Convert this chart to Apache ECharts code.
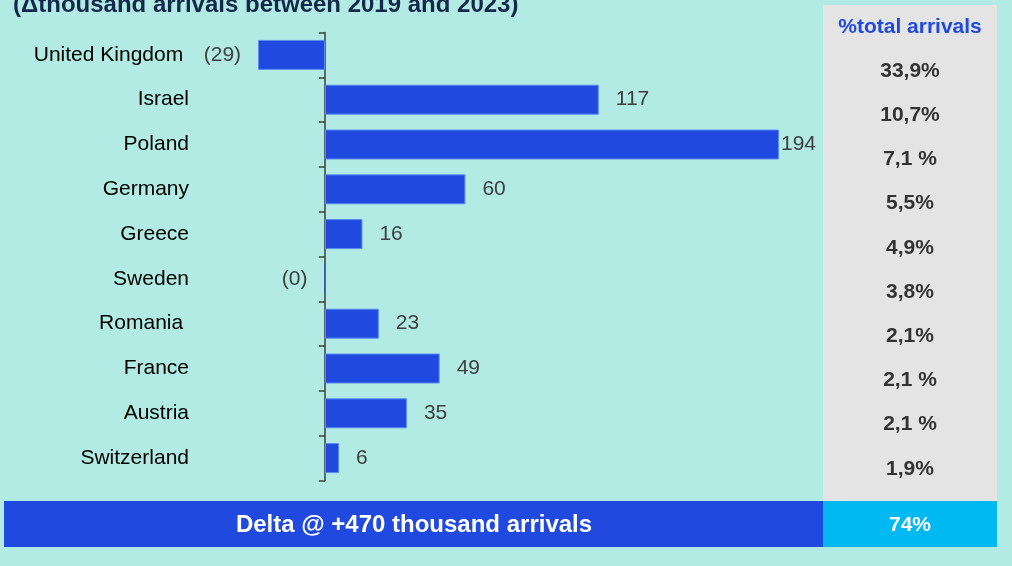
<!DOCTYPE html>
<html>
<head>
<meta charset="utf-8">
<script src="https://cdn.jsdelivr.net/npm/echarts@6/dist/echarts.min.js"></script>
<style>
html,body{margin:0;padding:0;background:#b1ebe4;}
#chart{width:1012px;height:566px;}
</style>
</head>
<body>
<div id="chart"></div>
<script>
var titleText = '(\u0394thousand arrivals between 2019 and 2023)';
var countries = ['United Kingdom ', 'Israel', 'Poland', 'Germany', 'Greece', 'Sweden', 'Romania ', 'France', 'Austria', 'Switzerland'];
var deltaValues = [-28.6, 117, 194, 60, 16, -0.2, 23, 49, 35, 6];
var pctHeader = '%total arrivals';
var pctLabels = ['33,9%', '10,7%', '7,1 %', '5,5%', '4,9%', '3,8%', '2,1%', '2,1 %', '2,1 %', '1,9%'];
var totalText = 'Delta @ +470 thousand arrivals';
var totalPct = '74%';

var FONT = "'Liberation Sans', Arial, sans-serif";
var BLUE = '#2049e0';
var maxVal = Math.max.apply(null, deltaValues);

function fmt(v) {
  var r = Math.round(Math.abs(v));
  return v < 0 ? '(' + r + ')' : String(r);
}

var barData = deltaValues.map(function (v) {
  return {
    value: v,
    itemStyle: {borderWidth: Math.abs(v) < 0.5 ? 0 : 1},
    label: {
      position: v < 0 ? 'left' : 'right',
      distance: v === maxVal ? 2 : 17,
      padding: [3, 0, 0, 0]
    }
  };
});

var chart = echarts.init(document.getElementById('chart'), null, {renderer: 'canvas'});
chart.setOption({
  backgroundColor: '#b1ebe4',
  animation: false,
  textStyle: {fontFamily: FONT},
  title: {
    text: titleText,
    left: 8,
    top: -12,
    textStyle: {fontFamily: FONT, fontSize: 24, fontWeight: 'bold', color: '#14284b'}
  },
  graphic: [
    {type: 'rect', z: -10, shape: {x: 823, y: 5, width: 174, height: 496}, style: {fill: '#e4e4e4'}},
    {type: 'rect', z: -10, shape: {x: 4, y: 501, width: 819, height: 46}, style: {fill: BLUE}},
    {type: 'rect', z: -10, shape: {x: 823, y: 501, width: 174, height: 46}, style: {fill: '#00b9f2'}},
    {type: 'text', z: 10, style: {text: pctHeader, x: 910, y: 27, align: 'center', verticalAlign: 'middle',
      fill: BLUE, font: 'bold 21px ' + FONT}},
    {type: 'text', z: 10, style: {text: totalText, x: 414, y: 525, align: 'center', verticalAlign: 'middle',
      fill: '#ffffff', font: 'bold 24px ' + FONT}},
    {type: 'text', z: 10, style: {text: totalPct, x: 910, y: 525, align: 'center', verticalAlign: 'middle',
      fill: '#ffffff', font: 'bold 21px ' + FONT}}
  ],
  grid: [
    {left: 208, top: 32.5, width: 585, height: 448, containLabel: false, outerBoundsMode: 'none'},
    {left: 823, top: 49, width: 174, height: 442, containLabel: false, outerBoundsMode: 'none'}
  ],
  xAxis: [
    {gridIndex: 0, type: 'value', min: -50, max: 200, show: false},
    {gridIndex: 1, type: 'value', min: 0, max: 1, show: false}
  ],
  yAxis: [
    {
      gridIndex: 0,
      type: 'category',
      inverse: true,
      data: countries,
      axisLine: {show: true, onZero: true, lineStyle: {color: '#404040', width: 1.5}},
      axisTick: {show: true, length: 6, lineStyle: {color: '#404040', width: 1.5}},
      axisLabel: {margin: 19, fontSize: 21, color: '#000000', fontFamily: FONT, align: 'right'},
      splitLine: {show: false}
    },
    {
      gridIndex: 1,
      type: 'category',
      inverse: true,
      data: countries,
      axisLine: {show: false},
      axisTick: {show: false},
      axisLabel: {
        margin: -87, align: 'center', fontSize: 21, fontWeight: 'bold', color: '#333333', fontFamily: FONT,
        formatter: function (v, i) { return pctLabels[i]; }
      },
      splitLine: {show: false}
    }
  ],
  series: [
    {
      type: 'bar',
      xAxisIndex: 0,
      yAxisIndex: 0,
      barWidth: 30,
      data: barData,
      itemStyle: {color: BLUE, borderColor: '#5a8cf0', borderWidth: 1},
      label: {
        show: true,
        fontSize: 21,
        color: '#404040',
        fontFamily: FONT,
        formatter: function (p) { return fmt(p.value); }
      }
    }
  ]
});
</script>
</body>
</html>
